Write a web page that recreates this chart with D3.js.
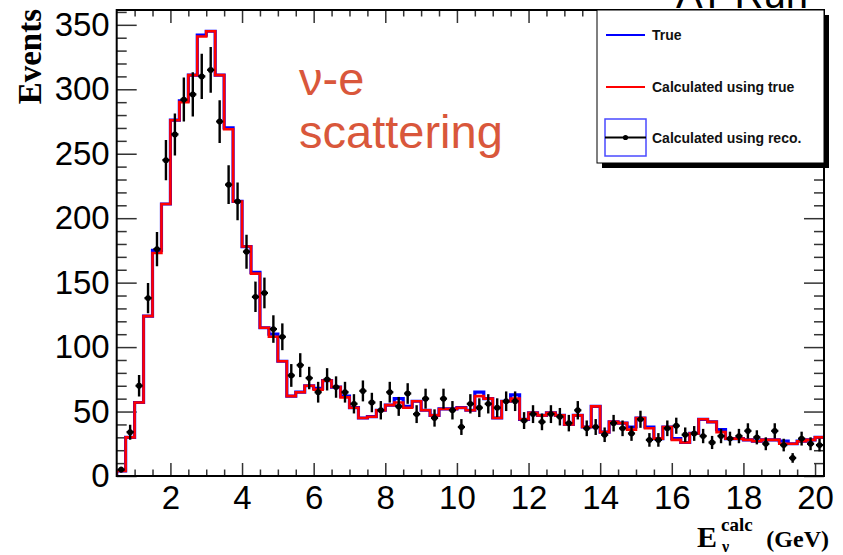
<!DOCTYPE html>
<html>
  <head>
    <meta charset="utf-8">
    <script src="https://d3js.org/d3.v7.min.js"></script>
    <style>
      body { margin: 0; background: #fff; }
      svg { display: block; }
      .axis .tick text {
        font-family: "Liberation Sans", Arial, sans-serif;
        font-size: 33px;
        fill: #000;
      }
      .axis .tick line { stroke: #333; stroke-width: 1.5px; }
      .axis .domain { display: none; }
      .legend text {
        font-family: "Liberation Sans", Arial, sans-serif;
        font-size: 14px;
        font-weight: bold;
        fill: #111;
      }
    </style>
  </head>
  <body>
    <script>
      // histogram binning (GeV)
      var binStart = 0.5;
      var binWidth = 0.25;

      // "True" (blue)
      var trueE = [4, 30, 57, 124, 175, 211, 276, 291, 311, 342,
                   345, 311, 270, 213, 178, 158, 115, 110, 89, 62,
                   65, 70, 68, 74, 69, 62, 53, 45, 46, 51,
                   55, 60, 54, 58, 51, 47, 52, 52, 53, 51,
                   65, 60, 45, 58, 63, 44, 49, 47, 49, 47,
                   40, 47, 38, 54, 34, 42, 41, 38, 45, 38,
                   29, 38, 29, 26, 33, 44, 42, 36, 29, 29,
                   28, 27, 28, 28, 27, 25, 27, 28, 30];

      // "Calculated using true" (red)
      var calcTrue = [4, 30, 57, 124, 173, 211, 276, 290, 311, 341,
                      345, 311, 269, 213, 178, 157, 115, 108, 89, 62,
                      65, 70, 67, 74, 69, 61, 53, 45, 46, 51,
                      55, 57, 53, 58, 51, 47, 52, 52, 53, 51,
                      62, 60, 45, 58, 60, 44, 49, 47, 49, 47,
                      40, 47, 38, 54, 34, 42, 41, 36, 45, 37,
                      29, 38, 28, 26, 33, 44, 42, 34, 29, 29,
                      28, 27, 28, 28, 25, 25, 27, 28, 30];

      // "Calculated using reco." (black points)
      var calcReco = [5, 34, 70, 138, 176, 245, 265, 292, 296, 310,
                      315, 275, 226, 213, 174, 139, 142, 114, 108, 78,
                      86, 76, 65, 75, 69, 65, 56, 66, 57, 51,
                      65, 54, 64, 48, 60, 45, 60, 51, 38, 56,
                      53, 56, 53, 58, 58, 43, 48, 42, 48, 46,
                      41, 51, 37, 38, 32, 41, 37, 33, 44, 28,
                      28, 37, 39, 32, 33, 31, 26, 31, 29, 31,
                      35, 30, 25, 35, 24, 14, 29, 25, 24];

      var xTicks = [2, 4, 6, 8, 10, 12, 14, 16, 18, 20];
      var yTicks = [0, 50, 100, 150, 200, 250, 300, 350];

      var width = 843, height = 555;
      var frame = {left: 116.7, right: 824, top: 10, bottom: 476};

      var svg = d3.select("body")
        .append("svg")
          .attr("width", width)
          .attr("height", height);

      var x = d3.scaleLinear().domain([0.5, 20.25]).range([frame.left, frame.right]);
      var y = d3.scaleLinear().domain([0, 361.5]).range([frame.bottom, frame.top]);

      var xMinor = d3.range(1, 20.01, 0.5).filter(function(v) { return v % 2 != 0; });
      var yMinor = d3.range(0, 361, 10).filter(function(v) { return v % 50 != 0; });

      // cut-off slide title at the very top
      svg.append("text")
        .attr("x", 676)
        .attr("y", 8)
        .style("font-family", "Liberation Sans, Arial, sans-serif")
        .style("font-size", "40px")
        .style("fill", "#000")
        .text("AT Run");

      // axes: ticks point inward, like ROOT
      svg.append("g").attr("class", "axis")
        .attr("transform", "translate(0," + frame.bottom + ")")
        .call(d3.axisBottom(x).tickValues(xTicks).tickSizeInner(-13).tickSizeOuter(0).tickPadding(10));
      svg.append("g").attr("class", "axis")
        .attr("transform", "translate(0," + frame.bottom + ")")
        .call(d3.axisBottom(x).tickValues(xMinor).tickSizeInner(-6.5).tickSizeOuter(0).tickFormat(""));
      svg.append("g").attr("class", "axis")
        .attr("transform", "translate(0," + frame.top + ")")
        .call(d3.axisTop(x).tickValues(xTicks).tickSizeInner(-13).tickSizeOuter(0).tickFormat(""));
      svg.append("g").attr("class", "axis")
        .attr("transform", "translate(0," + frame.top + ")")
        .call(d3.axisTop(x).tickValues(xMinor).tickSizeInner(-6.5).tickSizeOuter(0).tickFormat(""));

      svg.append("g").attr("class", "axis")
        .attr("transform", "translate(" + frame.left + ",0)")
        .call(d3.axisLeft(y).tickValues(yTicks).tickSizeInner(-20).tickSizeOuter(0).tickPadding(7));
      svg.append("g").attr("class", "axis")
        .attr("transform", "translate(" + frame.left + ",0)")
        .call(d3.axisLeft(y).tickValues(yMinor).tickSizeInner(-10).tickSizeOuter(0).tickFormat(""));
      svg.append("g").attr("class", "axis")
        .attr("transform", "translate(" + frame.right + ",0)")
        .call(d3.axisRight(y).tickValues(yTicks).tickSizeInner(-20).tickSizeOuter(0).tickFormat(""));
      svg.append("g").attr("class", "axis")
        .attr("transform", "translate(" + frame.right + ",0)")
        .call(d3.axisRight(y).tickValues(yMinor).tickSizeInner(-10).tickSizeOuter(0).tickFormat(""));

      // clip everything to the frame
      svg.append("clipPath").attr("id", "clip")
        .append("rect")
          .attr("x", frame.left).attr("y", frame.top)
          .attr("width", frame.right - frame.left)
          .attr("height", frame.bottom - frame.top);

      var plot = svg.append("g").attr("clip-path", "url(#clip)");

      function stepPoints(vals) {
        var pts = [[binStart, 0]];
        vals.forEach(function(v, i) {
          pts.push([binStart + i * binWidth, v]);
          pts.push([binStart + (i + 1) * binWidth, v]);
        });
        return pts;
      }

      var line = d3.line()
        .x(function(d) { return x(d[0]); })
        .y(function(d) { return y(d[1]); });

      plot.append("path")
        .attr("d", line(stepPoints(trueE)))
        .attr("fill", "none")
        .attr("stroke", "#0000ff")
        .attr("stroke-width", 3.2);

      plot.append("path")
        .attr("d", line(stepPoints(calcTrue)))
        .attr("fill", "none")
        .attr("stroke", "#ff0000")
        .attr("stroke-width", 2.6);

      // data points with sqrt(N) errors
      var pts = plot.selectAll("g.pt")
        .data(calcReco)
        .enter()
        .append("g")
          .attr("class", "pt");

      pts.append("line")
        .attr("x1", function(d, i) { return x(binStart + (i + 0.5) * binWidth); })
        .attr("x2", function(d, i) { return x(binStart + (i + 0.5) * binWidth); })
        .attr("y1", function(d) { return y(d - Math.sqrt(d)); })
        .attr("y2", function(d) { return y(d + Math.sqrt(d)); })
        .attr("stroke", "#000")
        .attr("stroke-width", 2.4);

      pts.append("line")
        .attr("x1", function(d, i) { return x(binStart + (i + 0.1) * binWidth); })
        .attr("x2", function(d, i) { return x(binStart + (i + 0.9) * binWidth); })
        .attr("y1", function(d) { return y(d); })
        .attr("y2", function(d) { return y(d); })
        .attr("stroke", "#000")
        .attr("stroke-width", 2.2);

      pts.append("circle")
        .attr("cx", function(d, i) { return x(binStart + (i + 0.5) * binWidth); })
        .attr("cy", function(d) { return y(d); })
        .attr("r", 2.9)
        .attr("fill", "#000");

      // frame
      svg.append("rect")
        .attr("x", frame.left).attr("y", frame.top)
        .attr("width", frame.right - frame.left)
        .attr("height", frame.bottom - frame.top)
        .attr("fill", "none")
        .attr("stroke", "#000")
        .attr("stroke-width", 2);

      // axis titles
      svg.append("text")
        .attr("transform", "translate(41,9) rotate(-90)")
        .attr("text-anchor", "end")
        .style("font-family", "Liberation Serif, Times New Roman, serif")
        .style("font-weight", "bold")
        .style("font-size", "33px")
        .text("Events");

      var xt = svg.append("g")
        .style("font-family", "Liberation Serif, Times New Roman, serif")
        .style("font-weight", "bold");
      xt.append("text").attr("x", 697).attr("y", 547).style("font-size", "30px").text("E");
      xt.append("text").attr("x", 721).attr("y", 531).style("font-size", "19px").text("calc");
      xt.append("text").attr("x", 722).attr("y", 552).style("font-size", "16px").text("\u03bd");
      xt.append("text").attr("x", 829).attr("y", 547).attr("text-anchor", "end")
        .style("font-size", "24px").text("(GeV)");

      // annotation
      var note = svg.append("g")
        .style("font-family", "Liberation Sans, Arial, sans-serif")
        .style("font-size", "47px")
        .style("fill", "#d9573b");
      note.append("text").attr("x", 299).attr("y", 95).text("\u03bd-e");
      note.append("text").attr("x", 299).attr("y", 148).text("scattering");

      // legend
      var lg = svg.append("g").attr("class", "legend");
      lg.append("rect")
        .attr("x", 602).attr("y", 15).attr("width", 227).attr("height", 153)
        .attr("fill", "#000");
      lg.append("rect")
        .attr("x", 597).attr("y", 10).attr("width", 227).attr("height", 153)
        .attr("fill", "#fff").attr("stroke", "#000").attr("stroke-width", 1);

      lg.append("line")
        .attr("x1", 606).attr("x2", 645).attr("y1", 35).attr("y2", 35)
        .attr("stroke", "#0000ff").attr("stroke-width", 2);
      lg.append("text").attr("x", 652).attr("y", 40).text("True");

      lg.append("line")
        .attr("x1", 606).attr("x2", 645).attr("y1", 87).attr("y2", 87)
        .attr("stroke", "#ff0000").attr("stroke-width", 2);
      lg.append("text").attr("x", 652).attr("y", 92).text("Calculated using true");

      lg.append("rect")
        .attr("x", 605).attr("y", 119).attr("width", 41).attr("height", 37)
        .attr("fill", "none").attr("stroke", "#4a4aff").attr("stroke-width", 1.5);
      lg.append("line")
        .attr("x1", 605).attr("x2", 646).attr("y1", 137.5).attr("y2", 137.5)
        .attr("stroke", "#000").attr("stroke-width", 2);
      lg.append("circle")
        .attr("cx", 625.5).attr("cy", 137.5).attr("r", 2.6).attr("fill", "#000");
      lg.append("text").attr("x", 652).attr("y", 142.5).text("Calculated using reco.");
    </script>
  </body>
</html>
